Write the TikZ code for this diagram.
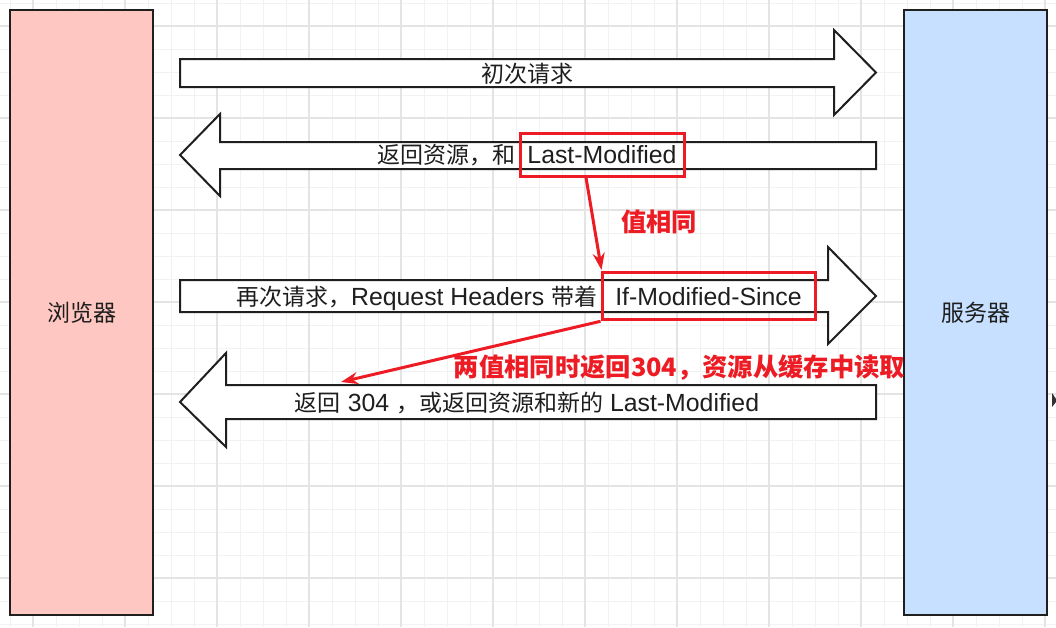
\documentclass[tikz,border=0pt]{standalone}
\usepackage{fontspec}
\setmainfont{Noto Sans CJK SC}
\newfontfamily\latinfont{Liberation Sans}[Scale=1.08]
\usetikzlibrary{arrows.meta}
\definecolor{browserfill}{RGB}{255,199,193}
\definecolor{serverfill}{RGB}{199,224,255}
\definecolor{markred}{RGB}{237,28,36}
\definecolor{inktext}{RGB}{30,30,30}
\definecolor{gridminor}{RGB}{242,242,242}
\definecolor{gridmajor}{RGB}{228,228,228}
\tikzset{
  endbox/.style={draw=black!88, line width=2pt, minimum width=143pt, minimum height=605pt, inner sep=0pt, font=\fontsize{23}{27}\selectfont, text=inktext},
  blockarrow/.style={draw=black!88, line width=2pt, fill=white, line join=miter},
  msg/.style={font=\fontsize{23}{27}\selectfont, text=inktext, inner sep=0pt},
  hilite/.style={draw=markred, line width=3pt, inner sep=0pt, font=\fontsize{23}{27}\selectfont, text=inktext},
  note/.style={font=\bfseries\fontsize{25.3}{30}\selectfont, text=markred, inner sep=0pt},
  redarrow/.style={draw=markred, line width=3pt, -{Stealth[length=17pt,width=12pt]}},
}
\begin{document}
\begin{tikzpicture}[x=1pt,y=-1pt]
\useasboundingbox (0,0) rectangle (1056,627);
\fill[white] (0,0) rectangle (1056,627);
% grid
\foreach \gx in {10,33,...,1056} \draw[gridminor, line width=1pt] (\gx,0) -- (\gx,627);
\foreach \gy in {3,26,...,627} \draw[gridminor, line width=1pt] (0,\gy) -- (1056,\gy);
\foreach \gx in {33,125,...,1056} \draw[gridmajor, line width=1.2pt] (\gx,0) -- (\gx,627);
\foreach \gy in {26,118,...,627} \draw[gridmajor, line width=1.2pt] (0,\gy) -- (1056,\gy);
% browser and server
\node[endbox, fill=browserfill] (browser) at (81.5,312.5) {浏览器};
\node[endbox, fill=serverfill] (server) at (975.5,312.5) {服务器};
\fill[black!80] (1052,393) -- (1056,399) -- (1056,402) -- (1052,407) -- cycle;
% block arrows
\draw[blockarrow] (180,59) -- (834,59) -- (834,30) -- (876,72.5) -- (834,115) -- (834,87) -- (180,87) -- cycle;
\draw[blockarrow] (876,142) -- (220,142) -- (220,114) -- (180,155) -- (220,196) -- (220,169) -- (876,169) -- cycle;
\draw[blockarrow] (180,280) -- (828,280) -- (828,247) -- (876,296) -- (828,344) -- (828,312) -- (180,312) -- cycle;
\draw[blockarrow] (876,385) -- (226,385) -- (226,353) -- (180,402) -- (226,447) -- (226,419) -- (876,419) -- cycle;
% messages
\node[msg] (firstreq) at (527,74) {初次请求};
\node[hilite, minimum width=164pt, minimum height=43pt] (lastmod) at (602,154.5) {\latinfont Last-Modified};
\node[msg, anchor=base east] (reply) at ([xshift=-3pt]lastmod.base west) {返回资源，和};
\node[hilite, minimum width=213pt, minimum height=47pt] (ifmod) at (708.5,296.3) {\latinfont If-Modified-Since};
\node[msg, anchor=base east] (secondreq) at ([xshift=-3pt]ifmod.base west) {再次请求，{\latinfont Request Headers }带着};
\node[msg] (secondreply) at (527,403) {返回{\latinfont\ 304 }，或返回资源和新的{\latinfont\ Last-Modified}};
% notes
\node[note] (samevalue) at (659,222) {值相同};
\node[note] (cachehit) at (679.5,368) {两值相同时返回304，资源从缓存中读取};
\coordinate (tipsame) at (601.5,270);
\coordinate (tipcache) at (341,382);
\draw[redarrow] ([xshift=-16pt]lastmod.south) -- (tipsame);
\draw[redarrow] (ifmod.south west) -- (tipcache);
\end{tikzpicture}
\end{document}
